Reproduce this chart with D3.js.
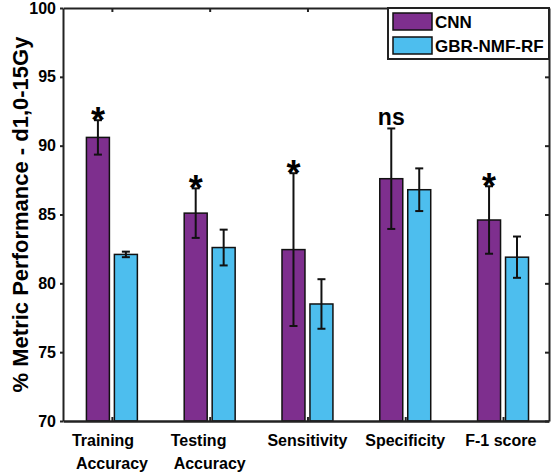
<!DOCTYPE html>
<html>
<head>
<meta charset="utf-8">
<script src="https://cdn.jsdelivr.net/npm/d3@7"></script>
<style>
  html, body { margin: 0; padding: 0; background: #fff; }
  svg { display: block; font-family: "Liberation Sans", Arial, sans-serif; font-weight: bold; }
  .axis path, .axis line { stroke: #222; }
  .axis text { fill: #000; }
</style>
</head>
<body>
<div id="chart"></div>
<script>
// Data
const categories = [
  ["Training\u00a0\u00a0\u00a0\u00a0", "Accuracy"],
  ["Testing\u00a0\u00a0\u00a0\u00a0\u00a0", "Accuracy"],
  ["Sensitivity"],
  ["Specificity"],
  ["F-1 score\u00a0"],
];
const seriesNames = ["CNN", "GBR-NMF-RF"];
const cnnMean = [90.6, 85.1, 82.45, 87.6, 84.6];
const cnnErr = [1.25, 1.8, 5.55, 3.65, 2.45];
const gbrMean = [82.1, 82.6, 78.5, 86.8, 81.9];
const gbrErr = [0.2, 1.3, 1.8, 1.55, 1.5];
const significance = ["*", "*", "*", "ns", "*"];
const yTicks = [70, 75, 80, 85, 90, 95, 100];

const width = 551;
const height = 474;
const margin = { top: 8, right: 2, bottom: 53, left: 63 };
const colors = ["#7E2F8E", "#4DBEEE"];

const series = [
  { name: seriesNames[0], mean: cnnMean, err: cnnErr },
  { name: seriesNames[1], mean: gbrMean, err: gbrErr },
];

const x = d3
  .scaleLinear()
  .domain([0.5, 5.47])
  .range([margin.left, width - margin.right]);
const step = x(2) - x(1);
const barWidth = step * 0.235;
const barOffset = step * 0.143;

const y = d3
  .scaleLinear()
  .domain([70, 100])
  .range([height - margin.bottom, margin.top]);

const svg = d3
  .select("#chart")
  .append("svg")
  .attr("width", width)
  .attr("height", height)
  .attr("viewBox", [0, 0, width, height]);

// flatten into one record per bar
const bars = [];
series.forEach((s, si) => {
  s.mean.forEach((m, i) => {
    bars.push({
      series: si,
      cat: i + 1,
      mean: m,
      err: s.err[i],
      cx: x(i + 1) + (si === 0 ? -barOffset : barOffset),
    });
  });
});

svg
  .append("g")
  .attr("class", "bars")
  .selectAll("rect")
  .data(bars)
  .join("rect")
  .attr("x", (d) => d.cx - barWidth / 2)
  .attr("width", barWidth)
  .attr("y", (d) => y(d.mean))
  .attr("height", (d) => y(70) - y(d.mean))
  .attr("fill", (d) => colors[d.series])
  .attr("stroke", "#111")
  .attr("stroke-width", 1.5);

const capHalf = 4;
const errG = svg
  .append("g")
  .attr("class", "errorbars")
  .attr("stroke", "#111")
  .attr("stroke-width", 2)
  .selectAll("g")
  .data(bars)
  .join("g");
errG
  .append("line")
  .attr("x1", (d) => d.cx)
  .attr("x2", (d) => d.cx)
  .attr("y1", (d) => y(d.mean + d.err))
  .attr("y2", (d) => y(d.mean - d.err));
errG
  .append("line")
  .attr("x1", (d) => d.cx - capHalf)
  .attr("x2", (d) => d.cx + capHalf)
  .attr("y1", (d) => y(d.mean + d.err))
  .attr("y2", (d) => y(d.mean + d.err));
errG
  .append("line")
  .attr("x1", (d) => d.cx - capHalf)
  .attr("x2", (d) => d.cx + capHalf)
  .attr("y1", (d) => y(d.mean - d.err))
  .attr("y2", (d) => y(d.mean - d.err));

// significance marks above the CNN bars
svg
  .append("g")
  .attr("class", "signif")
  .selectAll("text")
  .data(bars.filter((d) => d.series === 0))
  .join("text")
  .attr("x", (d) => d.cx)
  .attr("y", (d) =>
    significance[d.cat - 1] === "*"
      ? y(d.mean + d.err) + 13
      : y(d.mean + d.err) - 3
  )
  .attr("text-anchor", "middle")
  .attr("font-size", (d) => (significance[d.cat - 1] === "*" ? 36 : 23))
  .text((d) => significance[d.cat - 1]);

// axes (box style)
const catTicks = d3.range(1, categories.length + 1);

svg
  .append("g")
  .attr("class", "axis axis--left")
  .attr("transform", `translate(${margin.left},0)`)
  .call(
    d3.axisLeft(y).tickValues(yTicks).tickSize(3).tickSizeOuter(0).tickPadding(4)
  )
  .call((g) => g.select(".domain").attr("stroke-width", 2))
  .call((g) => g.selectAll(".tick line").attr("stroke-width", 2))
  .call((g) => g.selectAll(".tick text").attr("font-size", 16));

svg
  .append("g")
  .attr("class", "axis axis--right")
  .attr("transform", `translate(${width - margin.right},0)`)
  .call(
    d3.axisRight(y).tickValues(yTicks).tickSize(-4).tickSizeOuter(0).tickFormat("")
  )
  .call((g) => g.select(".domain").attr("stroke-width", 2))
  .call((g) => g.selectAll(".tick line").attr("stroke-width", 2));

svg
  .append("g")
  .attr("class", "axis axis--top")
  .attr("transform", `translate(0,${margin.top})`)
  .call(
    d3.axisTop(x).tickValues(catTicks).tickSize(-4).tickSizeOuter(0).tickFormat("")
  )
  .call((g) => g.select(".domain").attr("stroke-width", 2))
  .call((g) => g.selectAll(".tick line").attr("stroke-width", 2));

svg
  .append("g")
  .attr("class", "axis axis--bottom")
  .attr("transform", `translate(0,${height - margin.bottom})`)
  .call(
    d3.axisBottom(x).tickValues(catTicks).tickSize(-4).tickSizeOuter(0).tickFormat("")
  )
  .call((g) => g.select(".domain").attr("stroke-width", 2.5))
  .call((g) => g.selectAll(".tick line").attr("stroke-width", 2));

// multi-line category labels
svg
  .append("g")
  .attr("class", "cat-labels")
  .attr("font-size", 16)
  .selectAll("text")
  .data(categories)
  .join("text")
  .attr("text-anchor", "middle")
  .style("white-space", "pre")
  .attr("transform", (d, i) => `translate(${x(i + 1)},${y(70) + 25})`)
  .selectAll("tspan")
  .data((d) => d)
  .join("tspan")
  .attr("x", 0)
  .attr("dy", (d, i) => (i === 0 ? 0 : 23))
  .text((d) => d);

// y axis title
svg
  .append("text")
  .attr("class", "y-title")
  .attr("transform", `translate(28,${(y(70) + y(100)) / 2}) rotate(-90)`)
  .attr("text-anchor", "middle")
  .attr("font-size", 22)
  .text("% Metric Performance - d1,0-15Gy");

// legend
const legend = svg
  .append("g")
  .attr("class", "legend")
  .attr("transform", `translate(388,${margin.top})`);
legend
  .append("rect")
  .attr("width", width - margin.right - 388)
  .attr("height", 51)
  .attr("fill", "#fff")
  .attr("stroke", "#222")
  .attr("stroke-width", 2);
const item = legend
  .selectAll(".legend-item")
  .data(seriesNames)
  .join("g")
  .attr("class", "legend-item")
  .attr("transform", (d, i) => `translate(5,${5 + i * 24})`);
item
  .append("rect")
  .attr("width", 39)
  .attr("height", 17)
  .attr("fill", (d, i) => colors[i])
  .attr("stroke", "#111")
  .attr("stroke-width", 1.5);
item
  .append("text")
  .attr("x", 42)
  .attr("y", 15)
  .attr("font-size", 17)
  .text((d) => d);
</script>
</body>
</html>
